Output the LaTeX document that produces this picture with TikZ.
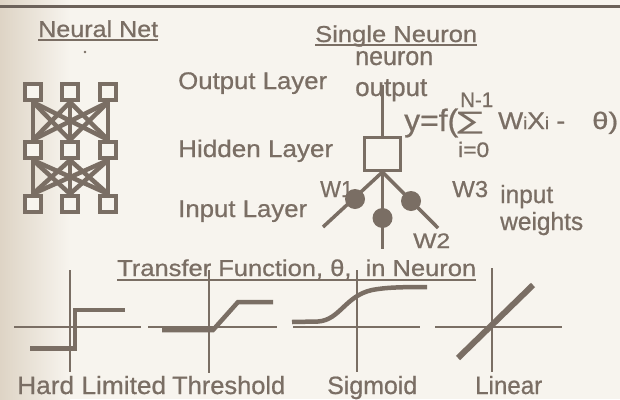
\documentclass[tikz,border=0pt]{standalone}
\usepackage{fontspec}
\setmainfont[FakeBold=0.7]{Liberation Sans}
\newfontfamily\symfont{DejaVu Sans}
\usepackage{graphicx}
\definecolor{ink}{RGB}{122,110,100}
\definecolor{rulec}{RGB}{108,98,90}
\definecolor{paper}{RGB}{247,244,238}
\definecolor{paperdark}{RGB}{222,212,197}
\newcommand\fitw[3]{{\fontsize{#2}{#2}\selectfont\resizebox{#1pt}{\height}{#3}}}
\tikzset{
  txt/.style={anchor=base west, inner sep=0pt, text=ink},
  sq/.style={draw=ink, line width=3.8pt, fill=paper, minimum size=16.5pt, inner sep=0pt},
  conn/.style={draw=ink, line width=4.5pt},
  nbox/.style={draw=ink, line width=3pt, fill=paper, minimum width=36pt, minimum height=33pt, inner sep=0pt},
  wline/.style={draw=ink, line width=3.5pt},
  wdot/.style={circle, fill=ink, minimum size=20pt, inner sep=0pt},
  axisl/.style={draw=ink, line width=2pt},
  fnl/.style={draw=ink, line width=4.5pt},
  uline/.style={draw=ink, line width=2pt}
}
\begin{document}
\begin{tikzpicture}[x=1pt, y=-1pt]
\useasboundingbox (0,0) rectangle (620,399);
\fill[paper] (0,0) rectangle (620,399);
\shade[left color=paperdark, right color=paper] (0,0) rectangle (70,399);
% top rule
\draw[rulec, line width=3pt] (0,6.5) -- (620,6.5);

% ---------- Neural Net ----------
\node[txt] (nnt) at (38,37) {\fitw{120}{23}{Neural Net}};
\draw[uline] ([yshift=-3pt]nnt.base west) -- ([yshift=-3pt]nnt.base east);
\fill[ink] (85,52) circle (1.3pt);

\foreach \c/\x in {1/33,2/70,3/108}{
  \node[sq] (t\c) at (\x,92) {};
  \node[sq] (m\c) at (\x,150) {};
  \node[sq] (b\c) at (\x,204) {};
}
\foreach \i in {1,2,3}{
  \foreach \j in {1,2,3}{
    \draw[conn] (t\i.south) -- (m\j.north);
    \draw[conn] (m\i.south) -- (b\j.north);
  }
}

\node[txt] (ol) at (178,89) {\fitw{149}{24}{Output Layer}};
\node[txt] (hl) at (178,157) {\fitw{155}{24}{Hidden Layer}};
\node[txt] (il) at (178,217) {\fitw{129}{24}{Input Layer}};

% ---------- Single Neuron ----------
\node[txt] (snt) at (315,42) {\fitw{162}{23}{Single Neuron}};
\draw[uline] ([yshift=-3pt]snt.base west) -- ([yshift=-3pt]snt.base east);
\node[txt] (neuron) at (355,65) {\fitw{78}{26}{neuron}};
\node[txt] (output) at (355,96) {\fitw{72}{26}{output}};

\node[nbox] (neu) at (382.5,154) {};
\coordinate (otop) at (382.5,85);
\coordinate (inL) at (323,227);
\coordinate (inM) at (382.5,249);
\coordinate (inR) at (438,228);
\draw[wline] (otop) -- (neu.north);
\draw[wline] (neu.south) -- (inL);
\draw[wline] (neu.south) -- (inM);
\draw[wline] (neu.south) -- (inR);
\node[wdot] (w1) at (355,199) {};
\node[wdot] (w2) at (382.5,218) {};
\node[wdot] (w3) at (411,201) {};

\node[txt] (lw1) at (320,197) {\fitw{33}{23}{W1}};
\node[txt] (lw3) at (452,197) {\fitw{36}{23}{W3}};
\node[txt] (lw2) at (413,248) {\fitw{37}{21}{W2}};
\node[txt] (inp) at (500,203) {\fitw{53}{25}{input}};
\node[txt] (wts) at (500,230) {\fitw{83}{25}{weights}};

% formula
\node[txt] (fy) at (404,131) {\fitw{54}{31}{y=f(}};
\node[inner sep=0pt, text=ink] (fsig) at (470,123) {\resizebox*{26pt}{22pt}{\symfont ∑}};
\node[txt] (fup) at (460,107) {\fitw{33}{21}{N-1}};
\node[txt] (flo) at (458,157) {\fitw{31}{21}{i=0}};
\node[txt] (fw) at (498,129) {\fitw{67}{24}{W{\fontsize{17}{17}\selectfont i}X{\fontsize{17}{17}\selectfont i} -}};
\node[txt] (fth) at (592,129) {\fitw{26}{24}{θ)}};

% ---------- Transfer functions ----------
\node[txt] (tft) at (117,276) {\fitw{359}{23}{Transfer Function, θ,\ \ in Neuron}};
\draw[uline] ([yshift=-3.5pt]tft.base west) -- ([yshift=-3.5pt]tft.base east);

% hard limited
\draw[axisl] (14,327) -- (141,327);
\draw[axisl] (70,270) -- (70,372);
\draw[fnl, line join=miter] (30,348.5) -- (75,348.5) -- (75,310) -- (125,310);
% threshold
\draw[axisl] (148,327) -- (277,327);
\draw[axisl] (209,270) -- (209,373);
\draw[fnl, line join=miter] (162,330) -- (213,330) -- (238,302) -- (273,302);
% sigmoid
\draw[axisl] (293,327) -- (420,327);
\draw[axisl] (357,270) -- (357,372);
\draw[fnl] (292,322) -- (318,321.5) .. controls (340,320) and (345,296) .. (372,290) .. controls (385,287.5) and (400,287) .. (427,287);
% linear
\draw[axisl] (435,327) -- (562,327);
\draw[axisl] (492,268) -- (492,372);
\draw[draw=ink, line width=6pt] (458,358) -- (533,285);

\node[txt] (hard) at (17,394) {\fitw{149}{25}{Hard Limited}};
\node[txt] (thr) at (172,394) {\fitw{113}{25}{Threshold}};
\node[txt] (sig) at (327,394) {\fitw{90}{25}{Sigmoid}};
\node[txt] (lin) at (475,394) {\fitw{67}{25}{Linear}};
\end{tikzpicture}
\end{document}
